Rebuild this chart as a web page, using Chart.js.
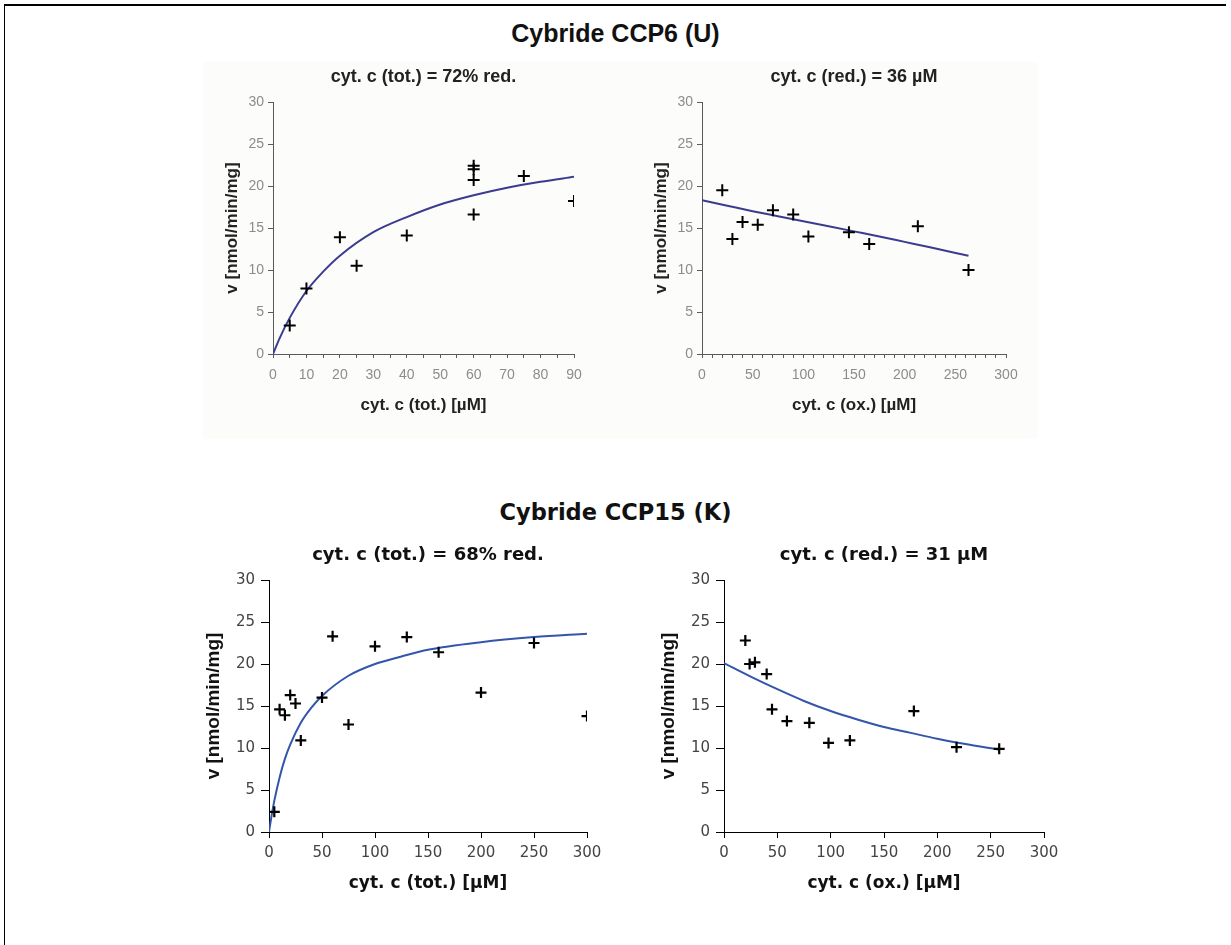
<!DOCTYPE html>
<html>
<head>
<meta charset="utf-8">
<title>Cybride CCP6 (U) / CCP15 (K)</title>
<script src="https://cdn.jsdelivr.net/npm/chart.js@4.4.1/dist/chart.umd.min.js"></script>
<style>
  body { margin: 0; width: 1231px; height: 945px; background: #fff; overflow: hidden; position: relative; }
  #frame-top { position: absolute; left: 4px; top: 4px; width: 1222px; height: 2px; background: #000; }
  #frame-left { position: absolute; left: 4px; top: 4px; width: 1px; height: 941px; background: #000; }
  #scan-bg { position: absolute; left: 203px; top: 62px; width: 835px; height: 377px; background: #fcfcfa; }
  .main-title { position: absolute; left: 0; width: 1231px; text-align: center; color: #111; }
  #title-ccp6 { top: 18px; font: bold 25px/30px "Liberation Sans", Arial, sans-serif; }
  #title-ccp15 { top: 499px; font: bold 22.5px/26px "DejaVu Sans", Verdana, sans-serif; }
  canvas { position: absolute; }
</style>
</head>
<body>
<div id="frame-top"></div>
<div id="frame-left"></div>
<div id="scan-bg"></div>
<div class="main-title" id="title-ccp6">Cybride CCP6 (U)</div>
<div class="main-title" id="title-ccp15">Cybride CCP15 (K)</div>
<canvas id="ccp6-tot"></canvas>
<canvas id="ccp6-ox"></canvas>
<canvas id="ccp15-tot"></canvas>
<canvas id="ccp15-ox"></canvas>
<script>
// ---- values ----

// Cybride CCP6 (U), left: v vs cyt. c (tot.), 72% red.
const ccp6TotX = [5, 10, 20, 25, 40, 60, 60, 60, 60, 75, 90];
const ccp6TotV = [3.4, 7.8, 13.9, 10.5, 14.1, 22.4, 22.0, 20.7, 16.6, 21.2, 18.2];
const ccp6TotFitX = [0, 2, 5, 10, 15, 20, 30, 40, 50, 60, 70, 80, 90];
const ccp6TotFitV = [0, 1.9, 4.3, 7.5, 9.8, 11.7, 14.5, 16.3, 17.8, 18.9, 19.8, 20.5, 21.1];

// Cybride CCP6 (U), right: v vs cyt. c (ox.), red. = 36 µM
const ccp6OxX = [20, 30, 40, 55, 70, 90, 105, 145, 165, 213, 263];
const ccp6OxV = [19.5, 13.7, 15.7, 15.4, 17.1, 16.6, 14.0, 14.5, 13.1, 15.2, 10.0];
const ccp6OxFitX = [0, 25, 50, 75, 100, 125, 150, 175, 200, 225, 263];
const ccp6OxFitV = [18.3, 17.65, 17.0, 16.4, 15.8, 15.2, 14.6, 14.0, 13.35, 12.7, 11.7];

// Cybride CCP15 (K), left: v vs cyt. c (tot.), 68% red.
const ccp15TotX = [5, 10, 15, 20, 25, 30, 50, 60, 75, 100, 130, 160, 200, 250, 300];
const ccp15TotV = [2.4, 14.6, 13.9, 16.3, 15.3, 10.9, 16.0, 23.3, 12.8, 22.1, 23.2, 21.4, 16.6, 22.5, 13.8];
const ccp15TotFitX = [0, 2, 5, 10, 15, 20, 30, 40, 50, 75, 100, 125, 150, 200, 250, 300];
const ccp15TotFitV = [0, 1.6, 3.7, 6.5, 8.7, 10.4, 13.0, 14.8, 16.2, 18.6, 20.0, 20.9, 21.7, 22.6, 23.2, 23.6];

// Cybride CCP15 (K), right: v vs cyt. c (ox.), red. = 31 µM
const ccp15OxX = [20, 24, 29, 40, 45, 59, 80, 98, 118, 178, 218, 258];
const ccp15OxV = [22.8, 20.0, 20.2, 18.8, 14.6, 13.2, 13.0, 10.6, 10.9, 14.4, 10.1, 9.9];
const ccp15OxFitX = [0, 25, 50, 75, 100, 125, 150, 175, 200, 225, 258];
const ccp15OxFitV = [20.1, 18.5, 17.0, 15.6, 14.4, 13.4, 12.5, 11.8, 11.1, 10.5, 9.8];

// axis labels
const yTitle = 'v [nmol/min/mg]';
const xTitleTot = 'cyt. c (tot.) [µM]';
const xTitleOx = 'cyt. c (ox.) [µM]';

// ---- looks: upper pair is a scanned Excel plot, lower pair is crisper ----
const scanLook = {
  yW: 70, xH: 70, titleH: 40, padR: 25,
  titleFont: { family: 'Liberation Sans', size: 18, weight: 'bold' }, titlePad: { top: 4.2, bottom: 14.2 },
  xTitleFont: { family: 'Liberation Sans', size: 17, weight: 'bold' }, xTitlePad: { top: 0, bottom: 8.8 },
  yTitleFont: { family: 'Liberation Sans', size: 17, weight: 'bold' }, yTitlePad: { top: 18.8, bottom: 0 },
  tickFont: { family: 'Liberation Sans', size: 14 }, tickColor: '#8c8c8c', axisColor: '#5a5a5a', textColor: '#222',
  xTickLen: 4, xTickPad: 8.6, yTickLen: 5, yTickPad: 4,
  curveColor: '#3b3b8f', crossR: 6, crossW: 2
};
const crispLook = {
  yW: 80, xH: 72, titleH: 40, padR: 25,
  titleFont: { family: 'DejaVu Sans', size: 18, weight: 'bold' }, titlePad: { top: 4.2, bottom: 14.2 },
  xTitleFont: { family: 'DejaVu Sans', size: 17, weight: 'bold' }, xTitlePad: { top: 0, bottom: 9.8 },
  yTitleFont: { family: 'Liberation Sans', size: 19, weight: 'bold' }, yTitlePad: { top: 13.6, bottom: 0 },
  tickFont: { family: 'DejaVu Sans', size: 15 }, tickColor: '#444', axisColor: '#000', textColor: '#111',
  xTickLen: 6, xTickPad: 6, yTickLen: 8, yTickPad: 6,
  curveColor: '#3355aa', crossR: 5.5, crossW: 2.2
};

const toXY = (xs, ys) => xs.map((x, i) => ({ x: x, y: ys[i] }));

function makePanel(id, box, title, xTitle, pts, fit, xAxis, look) {
  const canvas = document.getElementById(id);
  canvas.width = box.r - box.l + look.yW + look.padR;
  canvas.height = look.titleH + (box.b - box.t) + look.xH;
  canvas.style.left = (box.l - look.yW) + 'px';
  canvas.style.top = (box.t - look.titleH) + 'px';

  return new Chart(canvas, {
    type: 'scatter',
    data: {
      datasets: [{
        data: pts,
        showLine: false,
        pointStyle: 'cross',
        pointRadius: look.crossR,
        pointBorderWidth: look.crossW,
        pointBorderColor: '#000',
        borderColor: '#000',
        clip: 0
      }, {
        data: fit,
        showLine: true,
        pointRadius: 0,
        borderColor: look.curveColor,
        borderWidth: 2,
        cubicInterpolationMode: 'monotone',
        fill: false,
        clip: 0
      }]
    },
    options: {
      responsive: false,
      animation: false,
      devicePixelRatio: 1,
      layout: { padding: { left: 0, top: 0, right: look.padR, bottom: 0 }, autoPadding: false },
      plugins: {
        legend: { display: false },
        tooltip: { enabled: false },
        title: {
          display: true, text: title, fullSize: false,
          font: look.titleFont, color: look.textColor, padding: look.titlePad
        }
      },
      scales: {
        x: {
          type: 'linear', min: 0, max: xAxis.max,
          afterFit: s => { s.height = look.xH; },
          border: { display: true, color: look.axisColor, width: 1 },
          grid: { drawOnChartArea: false, drawTicks: true, tickLength: look.xTickLen, color: look.axisColor },
          ticks: {
            stepSize: xAxis.step, autoSkip: false, maxRotation: 0,
            padding: look.xTickPad, font: look.tickFont, color: look.tickColor,
            callback: v => (v % xAxis.labelEvery === 0 ? String(v) : '')
          },
          title: { display: true, text: xTitle, font: look.xTitleFont, color: look.textColor, padding: look.xTitlePad }
        },
        y: {
          type: 'linear', min: 0, max: 30,
          afterFit: s => { s.width = look.yW; },
          border: { display: true, color: look.axisColor, width: 1 },
          grid: { drawOnChartArea: false, drawTicks: true, tickLength: look.yTickLen, color: look.axisColor },
          ticks: { stepSize: 5, padding: look.yTickPad, font: look.tickFont, color: look.tickColor },
          title: { display: true, text: yTitle, font: look.yTitleFont, color: look.textColor, padding: look.yTitlePad }
        }
      }
    }
  });
}

makePanel('ccp6-tot', { l: 273, r: 574, t: 102, b: 354 }, 'cyt. c (tot.) = 72% red.', xTitleTot,
  toXY(ccp6TotX, ccp6TotV), toXY(ccp6TotFitX, ccp6TotFitV), { max: 90, step: 5, labelEvery: 10 }, scanLook);

makePanel('ccp6-ox', { l: 702, r: 1006, t: 102, b: 354 }, 'cyt. c (red.) = 36 µM', xTitleOx,
  toXY(ccp6OxX, ccp6OxV), toXY(ccp6OxFitX, ccp6OxFitV), { max: 300, step: 10, labelEvery: 50 }, scanLook);

makePanel('ccp15-tot', { l: 269, r: 587, t: 580, b: 832 }, 'cyt. c (tot.) = 68% red.', xTitleTot,
  toXY(ccp15TotX, ccp15TotV), toXY(ccp15TotFitX, ccp15TotFitV), { max: 300, step: 50, labelEvery: 50 }, crispLook);

makePanel('ccp15-ox', { l: 724, r: 1044, t: 580, b: 832 }, 'cyt. c (red.) = 31 µM', xTitleOx,
  toXY(ccp15OxX, ccp15OxV), toXY(ccp15OxFitX, ccp15OxFitV), { max: 300, step: 50, labelEvery: 50 }, crispLook);
</script>
</body>
</html>
